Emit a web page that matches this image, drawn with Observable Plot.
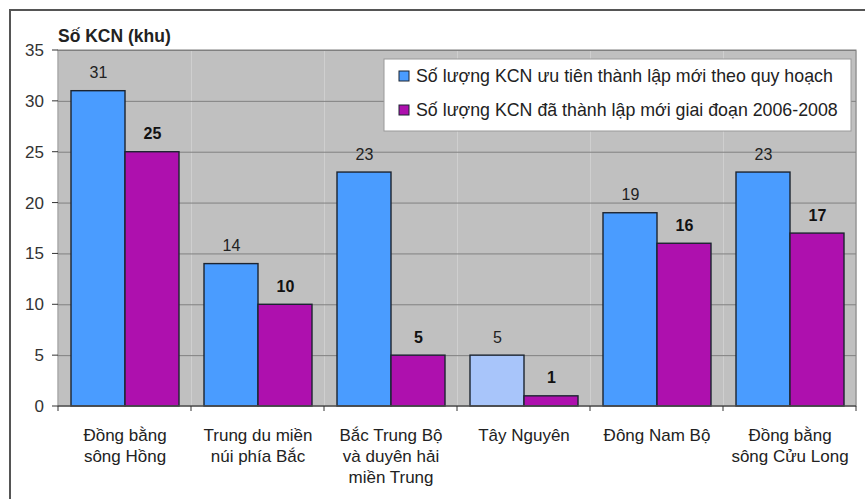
<!DOCTYPE html>
<html>
<head>
<meta charset="utf-8">
<script src="https://cdn.jsdelivr.net/npm/d3@7"></script>
<script src="https://cdn.jsdelivr.net/npm/@observablehq/plot@0.6"></script>
<style>
  html, body { margin: 0; padding: 0; background: #fff; }
  #chart { width: 865px; height: 499px; overflow: hidden; }
  #chart svg { display: block; }
</style>
</head>
<body>
<div id="chart"></div>
<script>
// Khu công nghiệp theo vùng kinh tế
const regions = [
  "Đồng bằng\nsông Hồng",
  "Trung du miền\nnúi phía Bắc",
  "Bắc Trung Bộ\nvà duyên hải\nmiền Trung",
  "Tây Nguyên",
  "Đông Nam Bộ",
  "Đồng bằng\nsông Cửu Long"
];
const seriesNames = [
  "Số lượng KCN ưu tiên thành lập mới theo quy hoạch",
  "Số lượng KCN đã thành lập mới giai đoạn 2006-2008"
];
const planned = [31, 14, 23, 5, 19, 23];
const established = [25, 10, 5, 1, 16, 17];
const seriesColors = ["#4a9cff", "#ae10ae"];
const highlightRegions = ["Tây Nguyên"];
const highlightColor = "#a8c5fa";
const yTicks = [0, 5, 10, 15, 20, 25, 30, 35];
const yTitle = "Số KCN (khu)";

const rows = [];
regions.forEach((r, i) => {
  rows.push({region: r, series: seriesNames[0], value: planned[i],
    color: highlightRegions.includes(r) ? highlightColor : seriesColors[0]});
  rows.push({region: r, series: seriesNames[1], value: established[i], color: seriesColors[1]});
});

const font = "'Liberation Sans', Arial, sans-serif";

const chart = Plot.plot({
  width: 865,
  height: 499,
  marginLeft: 57,
  marginRight: 8,
  marginTop: 50,
  marginBottom: 93,
  style: {fontFamily: font, fontSize: "16px", color: "#333", background: "transparent", overflow: "visible"},
  fx: {domain: regions, padding: 0, axis: null},
  x: {domain: seriesNames, paddingInner: 0, paddingOuter: 0.23, axis: null},
  y: {domain: [0, 35], axis: null},
  color: {type: "identity"},
  marks: [
    Plot.frame({fill: "#c0c0c0", stroke: null}),
    Plot.gridY(yTicks.slice(1), {stroke: "#808080", strokeOpacity: 1}),
    Plot.barY(rows, {fx: "region", x: "series", y: "value", fill: "color",
      stroke: "#1c2430", strokeWidth: 1.4}),
    Plot.text(rows.filter(d => d.series === seriesNames[0]), {fx: "region", x: "series", y: "value",
      text: d => String(d.value), dy: -18, fill: "#222", fontSize: 16}),
    Plot.text(rows.filter(d => d.series === seriesNames[1]), {fx: "region", x: "series", y: "value",
      text: d => String(d.value), dy: -18, fill: "#111", fontSize: 16, fontWeight: "bold"}),
    Plot.text(regions, {fx: d => d, text: d => d, frameAnchor: "bottom", lineAnchor: "top",
      dy: 19, lineHeight: 1.25, fill: "#222", fontSize: 17})
  ]
});

document.getElementById("chart").appendChild(chart);

// Decorations drawn from the plot's own scales
const svg = d3.select(chart);
const fx = chart.scale("fx");
const y = chart.scale("y");
const x0 = fx.apply(regions[0]);
const x1 = fx.apply(regions[regions.length - 1]) + fx.step;
const yTop = y.apply(35), yBase = y.apply(0);

// plot area outline and base line
svg.append("rect")
  .attr("x", x0).attr("y", yTop).attr("width", x1 - x0).attr("height", yBase - yTop)
  .attr("fill", "none").attr("stroke", "#808080").attr("stroke-width", 1);
svg.append("line").attr("x1", x0).attr("x2", x1).attr("y1", yBase).attr("y2", yBase)
  .attr("stroke", "#333");

// y axis ticks and labels
const ya = svg.append("g");
yTicks.forEach(t => {
  ya.append("line").attr("x1", x0 - 6).attr("x2", x0).attr("y1", y.apply(t)).attr("y2", y.apply(t))
    .attr("stroke", "#333");
  ya.append("text").attr("x", x0 - 14).attr("y", y.apply(t)).attr("dy", "0.35em")
    .attr("text-anchor", "end").attr("font-family", font).attr("font-size", 17)
    .attr("fill", "#333").text(t);
});

// category boundary ticks
regions.concat([null]).forEach(r => {
  const xx = r === null ? x1 : fx.apply(r);
  svg.append("line").attr("x1", xx).attr("x2", xx).attr("y1", yBase).attr("y2", yBase + 5)
    .attr("stroke", "#333");
});

// axis title
svg.append("text").attr("x", x0).attr("y", yTop - 8).attr("text-anchor", "start")
  .attr("font-family", font).attr("font-size", 17.5).attr("font-weight", "bold")
  .attr("fill", "#222").text(yTitle);

// legend
const lg = svg.append("g");
lg.append("rect").attr("x", 384).attr("y", 59).attr("width", 467).attr("height", 72)
  .attr("fill", "#fff").attr("stroke", "#999");
seriesNames.forEach((s, i) => {
  const cy = 76 + i * 34;
  lg.append("rect").attr("x", 399).attr("y", cy - 5).attr("width", 10).attr("height", 10)
    .attr("fill", seriesColors[i]).attr("stroke", "#1c2430");
  lg.append("text").attr("x", 416).attr("y", cy).attr("dy", "0.35em").attr("text-anchor", "start")
    .attr("font-family", font).attr("font-size", 17.8).attr("fill", "#222").text(s);
});

// outer chart border
svg.append("rect")
  .attr("x", 10).attr("y", 10).attr("width", 1000).attr("height", 1000)
  .attr("fill", "none").attr("stroke", "#555").attr("stroke-width", 2);
</script>
</body>
</html>
